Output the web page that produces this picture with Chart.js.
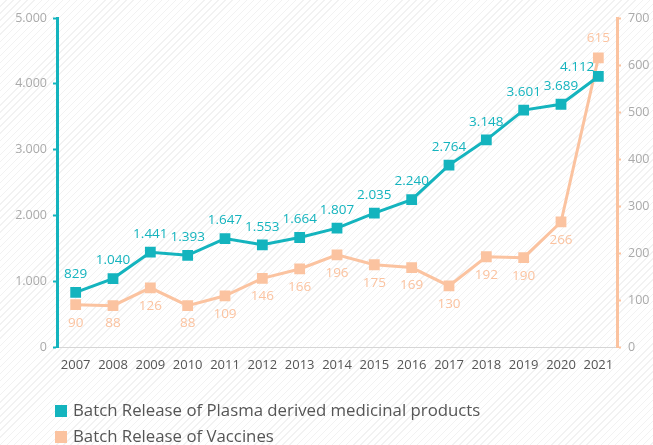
<!DOCTYPE html>
<html lang="en">
<head>
<meta charset="UTF-8">
<title>Batch Release</title>
<script src="https://cdn.jsdelivr.net/npm/chart.js@4/dist/chart.umd.min.js"></script>
<style>
  body{
    margin: 0;
    background: repeating-linear-gradient(135deg, #ffffff 0px, #ffffff 4px, #f2f2f2 4px, #f2f2f2 5px);
  }
  .wrap{
    position: relative;
    width: 653px;
    height: 445px;
  }
  .legend{
    position: absolute;
    left: 55px;
    top: 399px;
    font-family: 'Open Sans', sans-serif;
    font-size: 16.8px;
    color: #555;
  }
  .legend div{
    height: 26px;
    line-height: 22px;
  }
  .legend span{
    display: inline-block;
    width: 12px;
    height: 12px;
    margin-right: 6px;
    vertical-align: -1px;
  }
</style>
</head>
<body>
<div class="wrap">
  <canvas id="chart" width="653" height="445"></canvas>
  <div class="legend">
    <div><span style="background:#14b4be"></span>Batch Release of Plasma derived medicinal products</div>
    <div><span style="background:#fbc3a0"></span>Batch Release of Vaccines</div>
  </div>
</div>
<script>
const years = ['2007','2008','2009','2010','2011','2012','2013','2014','2015','2016','2017','2018','2019','2020','2021'];
const plasma = [829, 1040, 1441, 1393, 1647, 1553, 1664, 1807, 2035, 2240, 2764, 3148, 3601, 3689, 4112];
const vaccines = [90, 88, 126, 88, 109, 146, 166, 196, 175, 169, 130, 192, 190, 266, 615];

const teal = '#14b4be';
const peach = '#fbc3a0';
const font = "'Open Sans', sans-serif";

const fmt = v => String(v).replace(/\B(?=(\d{3})+(?!\d))/g, '.');

// value labels above / below the points
const pointLabels = {
  id: 'pointLabels',
  afterDatasetsDraw(chart){
    const ctx = chart.ctx;
    ctx.save();
    ctx.font = '13.5px ' + font;
    ctx.textBaseline = 'middle';
    chart.data.datasets.forEach((ds, i) => {
      const meta = chart.getDatasetMeta(i);
      meta.data.forEach((pt, j) => {
        const last = j === ds.data.length - 1;
        ctx.fillStyle = ds.borderColor;
        ctx.textAlign = 'center';
        let x = pt.x, y;
        if(i === 0){
          y = pt.y - 18;
          if(last){ ctx.textAlign = 'right'; x = pt.x - 4; y = pt.y - 9; }
        }else{
          y = last ? pt.y - 20 : pt.y + 18;
        }
        ctx.fillText(i === 0 ? fmt(ds.data[j]) : ds.data[j], x, y);
      });
    });
    ctx.restore();
  }
};

new Chart(document.getElementById('chart'), {
  type: 'line',
  data: {
    labels: years,
    datasets: [
      {
        label: 'Batch Release of Plasma derived medicinal products',
        data: plasma,
        yAxisID: 'y',
        borderColor: teal,
        backgroundColor: teal,
        borderWidth: 3,
        pointStyle: 'rect',
        pointRadius: 5.5,
        tension: 0
      },
      {
        label: 'Batch Release of Vaccines',
        data: vaccines,
        yAxisID: 'y2',
        borderColor: peach,
        backgroundColor: peach,
        borderWidth: 3,
        pointStyle: 'rect',
        pointRadius: 5.5,
        tension: 0
      }
    ]
  },
  options: {
    responsive: false,
    animation: false,
    layout: { padding: { top: 18, left: 0, right: 0 } },
    plugins: { legend: { display: false }, tooltip: { enabled: false } },
    scales: {
      x: {
        offset: true,
        grid: { display: true, drawOnChartArea: false, drawTicks: false },
        border: { color: '#d6d6d6', width: 1 },
        ticks: { color: '#555', font: { family: font, size: 13 }, padding: 10, maxRotation: 0 },
        afterFit(s){ s.height = 98; }
      },
      y: {
        position: 'left',
        min: 0, max: 5000,
        ticks: { stepSize: 1000, color: '#aaa', font: { family: font, size: 12.5 }, padding: 6, callback: v => fmt(v) },
        grid: { drawOnChartArea: false, drawTicks: true, tickLength: 4, tickColor: teal, tickWidth: 2 },
        border: { color: teal, width: 3 },
        afterFit(s){ s.width = 57; }
      },
      y2: {
        position: 'right',
        min: 0, max: 700,
        ticks: { stepSize: 100, color: '#aaa', font: { family: font, size: 12.5 }, padding: 7 },
        grid: { drawOnChartArea: false, drawTicks: true, tickLength: 4, tickColor: peach, tickWidth: 2 },
        border: { color: peach, width: 3 },
        afterFit(s){ s.width = 36; }
      }
    }
  },
  plugins: [pointLabels]
});
</script>
</body>
</html>
